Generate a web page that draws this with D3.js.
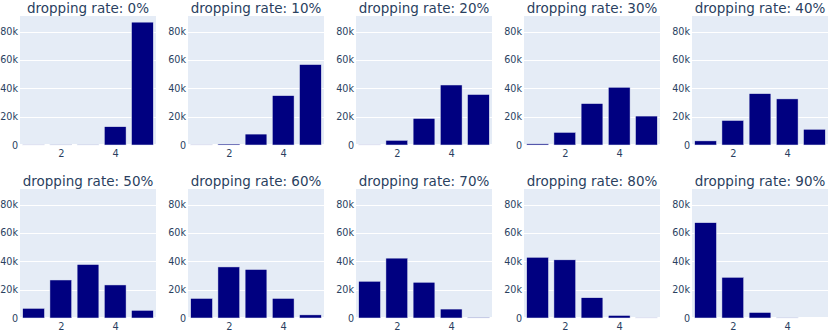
<!DOCTYPE html>
<html>
<head>
<meta charset="utf-8">
<script src="https://cdn.jsdelivr.net/npm/d3@7"></script>
<style>
  html, body { margin: 0; padding: 0; background: #fff; }
  svg { display: block; }
</style>
</head>
<body>
<svg id="chart" width="830" height="332"></svg>
<script>
// ---- data ----
const categories = [1, 2, 3, 4, 5];
const panelTitles = ["dropping rate: 0%", "dropping rate: 10%", "dropping rate: 20%", "dropping rate: 30%", "dropping rate: 40%",
                     "dropping rate: 50%", "dropping rate: 60%", "dropping rate: 70%", "dropping rate: 80%", "dropping rate: 90%"];
const rate0  = [100, 200, 200, 12900, 86600];
const rate10 = [100, 700, 7700, 34800, 56700];
const rate20 = [100, 3300, 18700, 42300, 35600];
const rate30 = [800, 8900, 29200, 40700, 20400];
const rate40 = [2900, 17300, 36200, 32500, 11100];
const rate50 = [6800, 26800, 37700, 23300, 5400];
const rate60 = [13800, 36000, 34200, 13800, 2200];
const rate70 = [25900, 42200, 25200, 6300, 400];
const rate80 = [42800, 41000, 14300, 1800, 100];
const rate90 = [67200, 28700, 3900, 200, 0];
const yTickValues = [0, 20000, 40000, 60000, 80000];
const yTickLabels = ["0", "20k", "40k", "60k", "80k"];
const xTickValues = [2, 4];
const xTickLabels = ["2", "4"];

const seriesList = [rate0, rate10, rate20, rate30, rate40, rate50, rate60, rate70, rate80, rate90];

// ---- layout ----
const W = 830, H = 332;
const plotW = 136, plotH = 129, colStep = 168;
const colX0 = 20;
const rowTops = [16, 189];
const textColor = "#2a3f5f";
const bgColor = "#E5ECF6";
const barColor = "#000080";
const font = "'DejaVu Sans', Verdana, sans-serif";

const svg = d3.select("#chart");
svg.append("rect").attr("width", W).attr("height", H).attr("fill", "#fff");

const maxVal = d3.max(seriesList.flat());
const yDomainMax = maxVal * 1.05;

seriesList.forEach((vals, i) => {
  const col = i % 5, row = Math.floor(i / 5);
  const left = colX0 + col * colStep;
  const top = rowTops[row];

  const x = d3.scaleLinear().domain([0.5, 5.5]).range([0, plotW]);
  const y = d3.scaleLinear().domain([0, yDomainMax]).range([plotH, 0]);

  const g = svg.append("g").attr("transform", `translate(${left},${top})`);

  g.append("rect").attr("width", plotW).attr("height", plotH).attr("fill", bgColor);

  // gridlines
  g.selectAll("line.grid").data(yTickValues.filter(v => v > 0)).enter()
    .append("line")
    .attr("x1", 0).attr("x2", plotW)
    .attr("y1", d => Math.round(y(d)) + 0.5).attr("y2", d => Math.round(y(d)) + 0.5)
    .attr("stroke", "#fff").attr("stroke-width", 1);

  // zero line
  g.append("line").attr("x1", 0).attr("x2", plotW)
    .attr("y1", y(0)).attr("y2", y(0))
    .attr("stroke", "#fff").attr("stroke-width", 2);

  // bars
  const bw = (x(1.5) - x(0.5)) * 0.8;
  g.selectAll("rect.bar").data(categories.map((c, k) => ({c, v: vals[k]}))).enter()
    .append("rect")
    .attr("class", "bar")
    .attr("x", d => x(d.c) - bw / 2)
    .attr("width", bw)
    .attr("y", d => y(d.v))
    .attr("height", d => y(0) - y(d.v))
    .attr("fill", barColor)
    .attr("stroke", bgColor)
    .attr("stroke-width", 0.5);

  // y axis labels
  const yAxis = d3.axisLeft(y).tickValues(yTickValues)
    .tickFormat((d, k) => yTickLabels[k]).tickSize(0).tickPadding(2);
  const ya = g.append("g").call(yAxis);
  ya.select(".domain").remove();
  ya.selectAll("text").attr("fill", textColor).style("font-family", font).style("font-size", "9.6px");

  // x axis labels
  const xAxis = d3.axisBottom(x).tickValues(xTickValues)
    .tickFormat((d, k) => xTickLabels[k]).tickSize(0).tickPadding(5);
  const xa = g.append("g").attr("transform", `translate(0,${plotH})`).call(xAxis);
  xa.select(".domain").remove();
  xa.selectAll("text").attr("fill", textColor).style("font-family", font).style("font-size", "9.8px");

  // title
  g.append("text")
    .attr("x", plotW / 2).attr("y", -3.5)
    .attr("text-anchor", "middle")
    .attr("fill", textColor)
    .style("font-family", font).style("font-size", "13.5px")
    .text(panelTitles[i]);
});
</script>
</body>
</html>
